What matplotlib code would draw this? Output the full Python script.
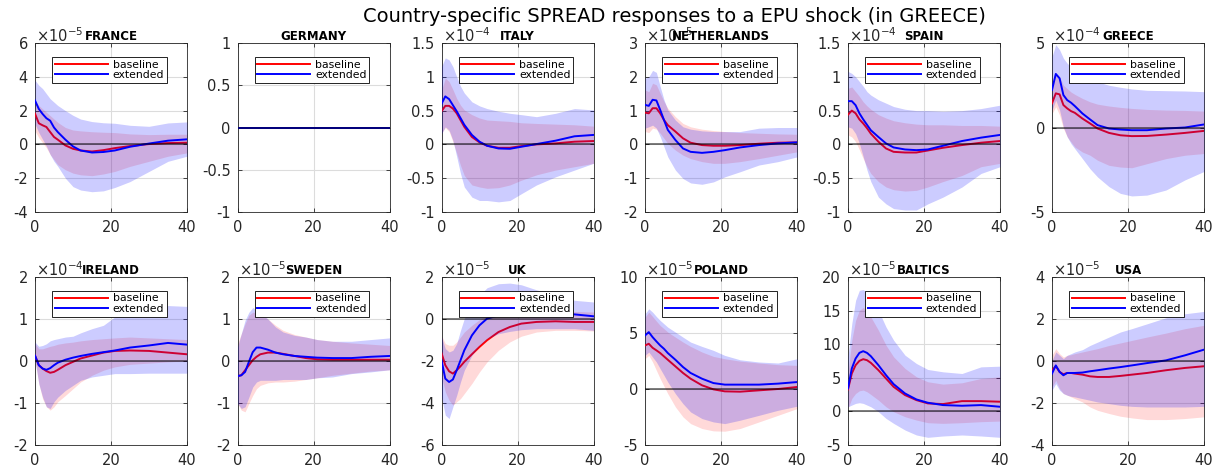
import matplotlib
matplotlib.use("Agg")
import matplotlib.pyplot as plt
from matplotlib.lines import Line2D

plt.rcParams['font.family'] = ['DejaVu Sans']
plt.rcParams['axes.unicode_minus'] = False
plt.rcParams['mathtext.fontset'] = 'dejavusans'

# horizons (quarters) at which values were read
H = [0, 1, 2, 3, 4, 5, 6, 8, 10, 12, 15, 18, 21, 25, 30, 35, 40]

countries = ["FRANCE", "GERMANY", "ITALY", "NETHERLANDS", "SPAIN", "GREECE",
             "IRELAND", "SWEDEN", "UK", "POLAND", "BALTICS", "USA"]
exponents = [-5, None, -4, -5, -4, -4, -4, -5, -5, -5, -5, -5]
yticks = [[-4, -2, 0, 2, 4, 6], [-1, -0.5, 0, 0.5, 1], [-1, -0.5, 0, 0.5, 1, 1.5],
          [-2, -1, 0, 1, 2, 3], [-1, -0.5, 0, 0.5, 1, 1.5], [-5, 0, 5],
          [-2, -1, 0, 1, 2], [-2, -1, 0, 1, 2], [-6, -4, -2, 0, 2],
          [-5, 0, 5, 10], [-5, 0, 5, 10, 15, 20], [-4, -2, 0, 2, 4]]
xticks = [0, 20, 40]

# ---- FRANCE (x1e-5)
fr_base = [1.82, 1.25, 1.13, 1.03, 0.73, 0.44, 0.28, -0.06, -0.26, -0.36, -0.42, -0.34, -0.22, -0.10, 0.02, 0.08, 0.10]
fr_base_lo = [0.8, 0.4, 0.1, -0.2, -0.6, -0.9, -1.2, -1.5, -1.7, -1.8, -1.85, -1.75, -1.6, -1.3, -1.0, -0.7, -0.5]
fr_base_hi = [2.6, 2.3, 2.1, 1.9, 1.7, 1.5, 1.3, 1.0, 0.85, 0.8, 0.75, 0.72, 0.7, 0.62, 0.58, 0.6, 0.6]
fr_ext = [2.6, 2.1, 1.8, 1.55, 1.4, 1.0, 0.73, 0.28, -0.12, -0.36, -0.48, -0.45, -0.36, -0.14, 0.05, 0.22, 0.3]
fr_ext_lo = [1.2, 0.7, 0.3, -0.1, -0.6, -1.0, -1.3, -2.0, -2.5, -2.7, -2.8, -2.75, -2.55, -2.2, -1.6, -1.0, -0.7]
fr_ext_hi = [3.8, 3.5, 3.3, 3.0, 2.7, 2.5, 2.3, 2.0, 1.72, 1.5, 1.35, 1.28, 1.25, 1.13, 1.07, 1.27, 1.33]

# ---- GERMANY
de_base = [0.0] * 17
de_base_lo = [0.0] * 17
de_base_hi = [0.0] * 17
de_ext = [0.0] * 17
de_ext_lo = [0.0] * 17
de_ext_hi = [0.0] * 17

# ---- ITALY (x1e-4)
it_base = [0.49, 0.57, 0.57, 0.53, 0.46, 0.36, 0.26, 0.11, 0.03, -0.02, -0.05, -0.05, -0.025, 0.0, 0.015, 0.04, 0.05]
it_base_lo = [0.16, 0.25, 0.19, 0.04, -0.13, -0.31, -0.46, -0.6, -0.63, -0.65, -0.64, -0.6, -0.53, -0.45, -0.38, -0.33, -0.28]
it_base_hi = [0.8, 0.98, 0.93, 0.81, 0.68, 0.58, 0.51, 0.44, 0.39, 0.36, 0.35, 0.34, 0.32, 0.31, 0.3, 0.29, 0.27]
it_ext = [0.6, 0.71, 0.67, 0.58, 0.49, 0.39, 0.29, 0.14, 0.04, -0.02, -0.06, -0.065, -0.035, 0.005, 0.055, 0.12, 0.14]
it_ext_lo = [0.16, 0.26, 0.21, 0.06, -0.18, -0.43, -0.63, -0.78, -0.83, -0.83, -0.85, -0.83, -0.73, -0.6, -0.48, -0.38, -0.28]
it_ext_hi = [1.15, 1.28, 1.25, 1.15, 1.0, 0.86, 0.76, 0.63, 0.57, 0.53, 0.49, 0.46, 0.44, 0.41, 0.46, 0.53, 0.51]

# ---- NETHERLANDS (x1e-5)
nl_base = [0.94, 0.92, 1.07, 1.07, 0.92, 0.72, 0.57, 0.38, 0.18, 0.05, -0.02, -0.04, -0.04, -0.02, 0.02, 0.05, 0.06]
nl_base_lo = [0.38, 0.35, 0.48, 0.45, 0.33, 0.18, 0.03, -0.17, -0.32, -0.42, -0.51, -0.56, -0.56, -0.51, -0.42, -0.32, -0.22]
nl_base_hi = [1.61, 1.56, 1.81, 1.76, 1.51, 1.27, 1.07, 0.82, 0.62, 0.52, 0.45, 0.41, 0.38, 0.35, 0.33, 0.31, 0.3]
nl_ext = [1.17, 1.14, 1.32, 1.3, 1.02, 0.72, 0.43, 0.13, -0.12, -0.22, -0.25, -0.22, -0.17, -0.09, -0.02, 0.03, 0.06]
nl_ext_lo = [0.48, 0.52, 0.57, 0.48, 0.23, -0.07, -0.37, -0.76, -1.01, -1.14, -1.18, -1.11, -0.96, -0.81, -0.61, -0.51, -0.37]
nl_ext_hi = [1.96, 2.0, 2.19, 2.13, 1.71, 1.32, 1.02, 0.72, 0.52, 0.45, 0.4, 0.38, 0.38, 0.38, 0.48, 0.5, 0.5]

# ---- SPAIN (x1e-4)
es_base = [0.44, 0.5, 0.46, 0.37, 0.31, 0.24, 0.16, 0.04, -0.06, -0.11, -0.12, -0.12, -0.09, -0.05, -0.01, 0.025, 0.05]
es_base_lo = [0.14, 0.11, 0.04, -0.08, -0.21, -0.33, -0.43, -0.55, -0.63, -0.67, -0.69, -0.68, -0.63, -0.55, -0.46, -0.33, -0.28]
es_base_hi = [0.83, 0.85, 0.78, 0.71, 0.63, 0.57, 0.52, 0.44, 0.39, 0.35, 0.32, 0.3, 0.29, 0.29, 0.28, 0.28, 0.27]
es_ext = [0.64, 0.64, 0.58, 0.46, 0.37, 0.29, 0.21, 0.11, 0.015, -0.045, -0.075, -0.085, -0.075, -0.02, 0.05, 0.1, 0.14]
es_ext_lo = [0.26, 0.24, 0.16, 0.015, -0.18, -0.38, -0.55, -0.78, -0.88, -0.95, -0.97, -0.97, -0.88, -0.78, -0.63, -0.43, -0.33]
es_ext_hi = [1.08, 1.05, 1.0, 0.93, 0.86, 0.78, 0.73, 0.66, 0.61, 0.56, 0.52, 0.5, 0.5, 0.49, 0.5, 0.53, 0.58]

# ---- GREECE (x1e-4)
gr_base = [1.43, 2.02, 1.96, 1.33, 1.13, 0.97, 0.87, 0.53, 0.24, -0.06, -0.32, -0.46, -0.51, -0.5, -0.42, -0.32, -0.2]
gr_base_lo = [0.83, 1.23, 0.73, -0.06, -0.55, -0.85, -1.15, -1.45, -1.64, -1.94, -2.24, -2.34, -2.38, -2.14, -1.84, -1.64, -1.54]
gr_base_hi = [2.6, 3.2, 3.0, 2.5, 2.3, 2.1, 1.96, 1.72, 1.52, 1.38, 1.27, 1.19, 1.13, 1.07, 1.03, 1.01, 0.97]
gr_ext = [2.22, 3.17, 2.91, 1.92, 1.62, 1.47, 1.27, 0.83, 0.48, 0.14, -0.06, -0.12, -0.16, -0.16, -0.06, 0.0, 0.18]
gr_ext_lo = [1.03, 1.62, 1.03, 0.04, -0.55, -0.95, -1.25, -1.84, -2.44, -2.93, -3.5, -3.9, -4.05, -4.0, -3.7, -3.1, -2.6]
gr_ext_hi = [4.2, 4.9, 4.6, 4.1, 3.8, 3.6, 3.4, 3.1, 2.9, 2.7, 2.5, 2.38, 2.28, 2.2, 2.18, 2.16, 2.12]

# ---- IRELAND (x1e-4)
ie_base = [0.13, -0.1, -0.18, -0.24, -0.28, -0.26, -0.21, -0.1, -0.02, 0.06, 0.13, 0.2, 0.24, 0.25, 0.24, 0.2, 0.16]
ie_base_lo = [0.02, -0.54, -0.9, -1.09, -1.17, -1.09, -0.97, -0.82, -0.66, -0.5, -0.34, -0.22, -0.14, -0.08, -0.05, -0.02, 0.0]
ie_base_hi = [0.41, 0.29, 0.29, 0.32, 0.35, 0.37, 0.4, 0.43, 0.45, 0.48, 0.51, 0.53, 0.55, 0.57, 0.55, 0.53, 0.51]
ie_ext = [0.13, -0.1, -0.18, -0.21, -0.17, -0.1, -0.04, 0.03, 0.08, 0.12, 0.17, 0.21, 0.25, 0.32, 0.37, 0.43, 0.39]
ie_ext_lo = [0.02, -0.54, -0.86, -1.09, -1.13, -0.97, -0.86, -0.7, -0.58, -0.46, -0.38, -0.34, -0.3, -0.3, -0.29, -0.29, -0.29]
ie_ext_hi = [0.45, 0.35, 0.37, 0.41, 0.48, 0.51, 0.53, 0.57, 0.59, 0.67, 0.77, 0.85, 1.05, 1.16, 1.27, 1.32, 1.3]

# ---- SWEDEN (x1e-5)
se_base = [-0.36, -0.34, -0.22, -0.1, 0.02, 0.1, 0.16, 0.2, 0.2, 0.17, 0.12, 0.07, 0.04, 0.03, 0.03, 0.03, 0.03]
se_base_lo = [-1.01, -1.17, -1.21, -1.01, -0.82, -0.66, -0.58, -0.52, -0.5, -0.5, -0.48, -0.44, -0.4, -0.34, -0.29, -0.24, -0.21]
se_base_hi = [0.41, 0.65, 0.89, 1.09, 1.16, 1.16, 1.11, 1.0, 0.85, 0.73, 0.63, 0.57, 0.51, 0.47, 0.43, 0.4, 0.37]
se_ext = [-0.36, -0.34, -0.26, -0.02, 0.21, 0.32, 0.32, 0.27, 0.2, 0.16, 0.12, 0.1, 0.08, 0.07, 0.07, 0.1, 0.12]
se_ext_lo = [-1.01, -1.13, -1.09, -0.86, -0.62, -0.5, -0.46, -0.46, -0.46, -0.44, -0.44, -0.44, -0.4, -0.38, -0.3, -0.26, -0.21]
se_ext_hi = [0.33, 0.65, 0.97, 1.16, 1.27, 1.23, 1.16, 1.0, 0.81, 0.69, 0.61, 0.57, 0.51, 0.47, 0.47, 0.51, 0.55]

# ---- UK (x1e-5)
uk_base = [-1.62, -2.2, -2.49, -2.6, -2.44, -2.25, -2.04, -1.68, -1.33, -1.01, -0.62, -0.38, -0.22, -0.14, -0.11, -0.14, -0.14]
uk_base_lo = [-2.76, -3.47, -3.87, -4.1, -3.94, -3.79, -3.55, -3.07, -2.52, -2.04, -1.49, -1.09, -0.82, -0.62, -0.54, -0.54, -0.57]
uk_base_hi = [-0.78, -1.17, -1.25, -1.25, -1.09, -0.86, -0.62, -0.3, -0.03, 0.17, 0.33, 0.41, 0.44, 0.41, 0.38, 0.36, 0.33]
uk_ext = [-1.97, -2.84, -3.0, -2.88, -2.44, -1.97, -1.49, -0.78, -0.3, 0.02, 0.17, 0.22, 0.25, 0.25, 0.25, 0.22, 0.13]
uk_ext_lo = [-3.71, -4.58, -4.74, -4.18, -3.63, -3.0, -2.44, -1.73, -1.25, -0.94, -0.7, -0.59, -0.51, -0.46, -0.46, -0.46, -0.54]
uk_ext_hi = [-0.86, -1.41, -1.57, -1.49, -1.17, -0.54, 0.02, 0.65, 1.13, 1.49, 1.68, 1.71, 1.63, 1.39, 1.13, 0.89, 0.81]

# ---- POLAND (x1e-5)
pl_base = [3.89, 4.04, 3.68, 3.45, 3.21, 2.91, 2.61, 2.02, 1.43, 0.92, 0.33, -0.03, -0.21, -0.24, -0.12, 0.0, 0.18]
pl_base_lo = [2.7, 3.0, 2.41, 1.66, 0.92, 0.24, -0.42, -1.6, -2.49, -3.09, -3.53, -3.74, -3.77, -3.53, -2.94, -2.35, -1.75]
pl_base_hi = [6.41, 6.86, 6.47, 6.06, 5.67, 5.38, 5.08, 4.63, 4.19, 3.8, 3.3, 2.91, 2.7, 2.49, 2.32, 2.17, 2.11]
pl_ext = [4.78, 5.08, 4.63, 4.25, 3.89, 3.59, 3.21, 2.61, 1.96, 1.43, 0.92, 0.53, 0.39, 0.39, 0.39, 0.48, 0.62]
pl_ext_lo = [3.0, 3.3, 2.85, 2.41, 1.81, 1.22, 0.62, -0.42, -1.31, -2.05, -2.64, -2.94, -3.09, -2.79, -2.35, -1.9, -1.54]
pl_ext_hi = [6.71, 7.16, 6.86, 6.47, 6.12, 5.82, 5.52, 5.08, 4.63, 4.19, 3.8, 3.45, 3.0, 2.61, 2.41, 2.32, 2.7]

# ---- BALTICS (x1e-5)
bt_base = [3.27, 5.64, 6.88, 7.52, 7.77, 7.62, 7.23, 6.14, 4.9, 3.66, 2.43, 1.68, 1.19, 1.09, 1.53, 1.53, 1.44]
bt_base_lo = [0.45, 1.93, 2.67, 3.07, 3.17, 2.92, 2.52, 1.68, 0.69, -0.05, -0.79, -1.29, -1.68, -1.78, -1.68, -1.53, -1.44]
bt_base_hi = [5.64, 10.6, 13.56, 15.05, 15.45, 15.05, 14.06, 12.08, 9.85, 8.12, 6.39, 5.15, 4.41, 4.06, 4.26, 4.9, 5.15]
bt_ext = [3.42, 6.39, 7.87, 8.71, 8.96, 8.71, 8.22, 6.88, 5.4, 4.06, 2.67, 1.78, 1.29, 0.94, 0.84, 0.94, 0.69]
bt_ext_lo = [0.69, 0.94, 1.19, 1.29, 1.19, 0.94, 0.69, -0.05, -1.04, -1.78, -2.77, -3.51, -3.86, -3.66, -3.51, -3.66, -3.86]
bt_ext_hi = [8.12, 13.07, 16.53, 18.02, 18.12, 17.77, 17.03, 15.05, 12.57, 10.6, 8.37, 7.13, 6.24, 5.89, 5.64, 6.63, 6.73]

# ---- USA (x1e-5)
us_base = [-0.44, -0.25, -0.52, -0.63, -0.57, -0.57, -0.6, -0.65, -0.73, -0.76, -0.76, -0.71, -0.65, -0.57, -0.44, -0.33, -0.25]
us_base_lo = [-1.24, -0.92, -1.32, -1.55, -1.63, -1.71, -1.79, -1.95, -2.19, -2.35, -2.5, -2.63, -2.71, -2.79, -2.79, -2.74, -2.66]
us_base_hi = [0.27, 0.59, 0.35, 0.19, 0.27, 0.3, 0.35, 0.43, 0.51, 0.59, 0.74, 0.86, 0.98, 1.14, 1.33, 1.54, 1.7]
us_ext = [-0.6, -0.21, -0.52, -0.68, -0.57, -0.57, -0.57, -0.55, -0.49, -0.44, -0.36, -0.29, -0.21, -0.1, 0.03, 0.27, 0.54]
us_ext_lo = [-1.39, -1.08, -1.39, -1.55, -1.63, -1.68, -1.71, -1.79, -1.87, -1.95, -2.03, -2.11, -2.16, -2.19, -2.19, -2.19, -2.16]
us_ext_hi = [0.03, 0.43, 0.27, 0.11, 0.27, 0.35, 0.43, 0.54, 0.74, 0.9, 1.14, 1.38, 1.54, 1.77, 2.06, 2.25, 2.36]

series = [
    (fr_base, fr_base_lo, fr_base_hi, fr_ext, fr_ext_lo, fr_ext_hi),
    (de_base, de_base_lo, de_base_hi, de_ext, de_ext_lo, de_ext_hi),
    (it_base, it_base_lo, it_base_hi, it_ext, it_ext_lo, it_ext_hi),
    (nl_base, nl_base_lo, nl_base_hi, nl_ext, nl_ext_lo, nl_ext_hi),
    (es_base, es_base_lo, es_base_hi, es_ext, es_ext_lo, es_ext_hi),
    (gr_base, gr_base_lo, gr_base_hi, gr_ext, gr_ext_lo, gr_ext_hi),
    (ie_base, ie_base_lo, ie_base_hi, ie_ext, ie_ext_lo, ie_ext_hi),
    (se_base, se_base_lo, se_base_hi, se_ext, se_ext_lo, se_ext_hi),
    (uk_base, uk_base_lo, uk_base_hi, uk_ext, uk_ext_lo, uk_ext_hi),
    (pl_base, pl_base_lo, pl_base_hi, pl_ext, pl_ext_lo, pl_ext_hi),
    (bt_base, bt_base_lo, bt_base_hi, bt_ext, bt_ext_lo, bt_ext_hi),
    (us_base, us_base_lo, us_base_hi, us_ext, us_ext_lo, us_ext_hi),
]

W, Hpx = 1224, 466
fig = plt.figure(figsize=(W / 100, Hpx / 100), dpi=100)
fig.patch.set_facecolor('white')

col_left = [35, 237.5, 441.5, 645, 848, 1052]
ax_w = 152
rows = [(43, 212), (277, 445)]

for i, name in enumerate(countries):
    r, c = divmod(i, 6)
    top, bot = rows[r]
    ax = fig.add_axes([col_left[c] / W, 1 - bot / Hpx, ax_w / W, (bot - top) / Hpx])
    b, blo, bhi, e, elo, ehi = series[i]
    ax.fill_between(H, blo, bhi, color=(1, 0, 0), alpha=0.15, lw=0, zorder=2)
    ax.plot(H, b, color=(1, 0, 0), lw=1.4, zorder=3)
    ax.fill_between(H, elo, ehi, color=(0, 0, 1), alpha=0.2, lw=0, zorder=4)
    ax.plot(H, e, color=(0, 0, 1), lw=1.4, zorder=5)
    ax.axhline(0, color='black', lw=1.1, alpha=0.65, zorder=6)

    yt = yticks[i]
    ax.set_ylim(yt[0], yt[-1])
    ax.set_xlim(0, 40)
    ax.set_yticks(yt)
    ax.set_yticklabels([('%g' % v) for v in yt])
    ax.set_xticks(xticks)
    ax.tick_params(direction='in', length=3, width=0.6, labelsize=10.5, pad=5,
                   top=True, right=True, colors='#262626')
    ax.tick_params(axis='x', pad=6)
    for s in ax.spines.values():
        s.set_linewidth(0.6)
        s.set_color('#262626')
    ax.grid(True, color='#dcdcdc', lw=0.8, zorder=0)
    ax.set_axisbelow(True)

    ax.set_title(name, fontsize=8.5, fontweight='bold', pad=2.5)
    if exponents[i] is not None:
        ax.annotate(r'$\times10^{%d}$' % exponents[i], xy=(0.0, 1.0), xycoords='axes fraction',
                    xytext=(1, 0.8), textcoords='offset points',
                    ha='left', va='baseline', fontsize=10.5, color='#262626')

    handles = [Line2D([], [], color=(1, 0, 0), lw=1.4),
               Line2D([], [], color=(0, 0, 1), lw=1.4)]
    leg = ax.legend(handles, ['baseline', 'extended'], loc='upper center',
                    bbox_to_anchor=(0.49, 0.918), borderaxespad=0, fontsize=7.8,
                    handlelength=4.9, handletextpad=0.45, labelspacing=0.05,
                    borderpad=0.25, fancybox=False, framealpha=1, edgecolor='black')
    leg.get_frame().set_linewidth(0.6)
    leg.set_zorder(10)

fig.text(674 / W, 1 - 16 / Hpx, 'Country-specific SPREAD responses to a EPU shock (in GREECE)',
         ha='center', va='center', fontsize=14)

fig.savefig('out.png', dpi=100)
